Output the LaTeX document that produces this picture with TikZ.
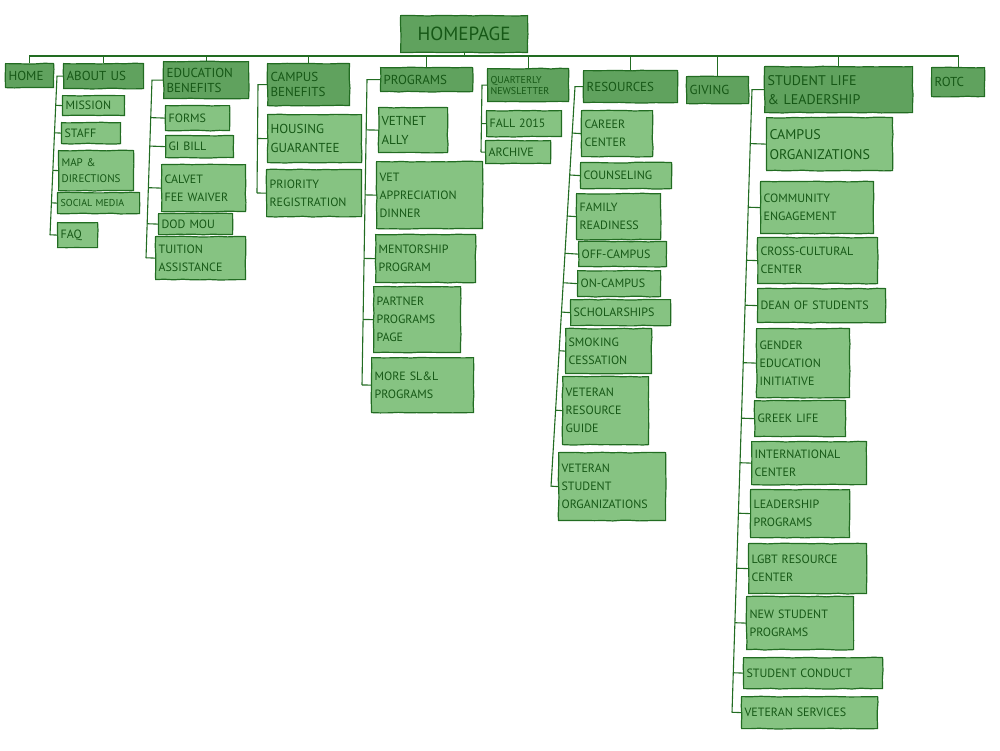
\documentclass[tikz,border=0pt]{standalone}
\usepackage{fontspec}
\setmainfont{PT Sans}
\usetikzlibrary{calc,decorations.pathmorphing}
\definecolor{inkgreen}{RGB}{34,108,34}
\definecolor{textgreen}{RGB}{22,88,22}
\definecolor{topfill}{RGB}{96,162,94}
\definecolor{kidfill}{RGB}{134,195,130}
\tikzset{
  box/.style={draw=inkgreen, line width=1.2pt, text=textgreen, inner sep=3pt,
    anchor=north west, align=left,
    decorate, decoration={random steps, segment length=9pt, amplitude=0.4pt}},
  top/.style={box, fill=topfill, font=\fontsize{13}{15}\selectfont},
  kid/.style={box, fill=kidfill, font=\fontsize{12}{18}\selectfont},
  link/.style={draw=inkgreen, line width=1.1pt}
}
\begin{document}
\begin{tikzpicture}[x=1pt,y=-1pt]
\useasboundingbox (0,0) rectangle (1000,750);
% homepage and first level
\node[top, text width=121pt, minimum height=37pt, font=\fontsize{19}{22}\selectfont, align=center] (homepage) at (400,15) {HOMEPAGE};
\node[top, text width=42pt, minimum height=24pt] (home) at (5,63) {HOME};
\node[top, text width=74pt, minimum height=25pt] (about) at (63,63) {ABOUT US};
\node[top, text width=79pt, minimum height=37pt] (edu) at (163,61) {EDUCATION\\BENEFITS};
\node[top, text width=76pt, minimum height=42pt] (campus) at (267,63) {CAMPUS\\BENEFITS};
\node[top, text width=86pt, minimum height=24pt] (programs) at (380,67) {PROGRAMS};
\node[top, text width=75pt, minimum height=33pt, font=\fontsize{10}{11}\selectfont] (news) at (487,68) {QUARTERLY\\NEWSLETTER};
\node[top, text width=88pt, minimum height=32pt] (resources) at (583,70) {RESOURCES};
\node[top, text width=56pt, minimum height=27pt] (giving) at (686,76) {GIVING};
\node[top, text width=142pt, minimum height=46pt, font=\fontsize{14}{19}\selectfont] (studentlife) at (764,66) {STUDENT LIFE\\\& LEADERSHIP};
\node[top, text width=47pt, minimum height=29pt] (rotc) at (931,67) {ROTC};

\coordinate (topbar) at (0,56);
\draw[link] (homepage.south) -- (homepage.south |- topbar);
\draw[link] (home.north) |- (rotc.north |- topbar) -- (rotc.north);
\foreach \n in {about,edu,campus,programs,news,resources,giving,studentlife}
  \draw[link] (\n.north) -- (\n.north |- topbar);

% about us
\node[kid, text width=56pt, minimum height=20pt] (mission) at (62,95) {MISSION};
\node[kid, text width=53pt, minimum height=21pt] (staff) at (61,122) {STAFF};
\node[kid, text width=69pt, minimum height=40pt, font=\fontsize{11}{16}\selectfont] (mapdir) at (58,150) {MAP \&\\DIRECTIONS};
\node[kid, text width=76pt, minimum height=21pt, font=\fontsize{10}{12}\selectfont] (social) at (57,192) {SOCIAL MEDIA};
\node[kid, text width=34pt, minimum height=25pt] (faq) at (57,222) {FAQ};
\coordinate (abtop) at (about.west -| 57,0);
\coordinate (abbot) at (faq.west -| 50,0);
\draw[link] (about.west) -- (abtop) -- (abbot);
\foreach \k in {mission,staff,mapdir,social,faq}
  \draw[link] ($(abtop)!(\k.west)!(abbot)$) -- (\k.west);

% education benefits
\node[kid, text width=58pt, minimum height=25pt] (forms) at (165,105) {FORMS};
\node[kid, text width=62pt, minimum height=22pt] (gibill) at (165,135) {GI BILL};
\node[kid, text width=78pt, minimum height=47pt] (calvet) at (161,164) {CALVET\\FEE WAIVER};
\node[kid, text width=68pt, minimum height=21pt] (dodmou) at (158,213) {DOD MOU};
\node[kid, text width=84pt, minimum height=43pt] (tuition) at (155,236) {TUITION\\ASSISTANCE};
\coordinate (edtop) at (edu.west -| 152,0);
\coordinate (edbot) at (tuition.west -| 146,0);
\draw[link] (edu.west) -- (edtop) -- (edbot);
\foreach \k in {forms,gibill,calvet,dodmou,tuition}
  \draw[link] ($(edtop)!(\k.west)!(edbot)$) -- (\k.west);

% campus benefits
\node[kid, text width=88pt, minimum height=48pt, font=\fontsize{13}{19}\selectfont] (housing) at (267,114) {HOUSING\\GUARANTEE};
\node[kid, text width=89pt, minimum height=47pt] (priority) at (266,169) {PRIORITY\\REGISTRATION};
\coordinate (cbtop) at (campus.west -| 258,0);
\coordinate (cbbot) at (priority.west -| 257,0);
\draw[link] (campus.west) -- (cbtop) -- (cbbot);
\foreach \k in {housing,priority}
  \draw[link] ($(cbtop)!(\k.west)!(cbbot)$) -- (\k.west);

% programs
\node[kid, text width=63pt, minimum height=45pt, font=\fontsize{13}{19}\selectfont] (vetnet) at (378,107) {VETNET\\ALLY};
\node[kid, text width=100pt, minimum height=67pt] (dinner) at (376,161) {VET\\APPRECIATION\\DINNER};
\node[kid, text width=94pt, minimum height=48pt] (mentor) at (375,234) {MENTORSHIP\\PROGRAM};
\node[kid, text width=81pt, minimum height=66pt] (partner) at (373,286) {PARTNER\\PROGRAMS\\PAGE};
\node[kid, text width=96pt, minimum height=55pt] (moresll) at (371,357) {MORE SL\&L\\PROGRAMS};
\coordinate (prtop) at (programs.west -| 367,0);
\coordinate (prbot) at (moresll.west -| 362,0);
\draw[link] (programs.west) -- (prtop) -- (prbot);
\foreach \k in {vetnet,dinner,mentor,partner,moresll}
  \draw[link] ($(prtop)!(\k.west)!(prbot)$) -- (\k.west);

% quarterly newsletter
\node[kid, text width=69pt, minimum height=26pt] (fall) at (486,110) {FALL 2015};
\node[kid, text width=59pt, minimum height=23pt] (archive) at (485,140) {ARCHIVE};
\coordinate (nltop) at (news.west -| 482,0);
\coordinate (nlbot) at (archive.west -| 481,0);
\draw[link] (news.west) -- (nltop) -- (nlbot);
\foreach \k in {fall,archive}
  \draw[link] ($(nltop)!(\k.west)!(nlbot)$) -- (\k.west);

% resources
\node[kid, text width=65pt, minimum height=46pt] (career) at (581,110) {CAREER\\CENTER};
\node[kid, text width=85pt, minimum height=26pt] (counsel) at (580,162) {COUNSELING};
\node[kid, text width=78pt, minimum height=46pt] (family) at (576,193) {FAMILY\\READINESS};
\node[kid, text width=82pt, minimum height=25pt] (offcampus) at (578,241) {OFF-CAMPUS};
\node[kid, text width=77pt, minimum height=26pt] (oncampus) at (577,270) {ON-CAMPUS};
\node[kid, text width=94pt, minimum height=26pt] (scholar) at (570,299) {SCHOLARSHIPS};
\node[kid, text width=80pt, minimum height=45pt] (smoking) at (565,328) {SMOKING\\CESSATION};
\node[kid, text width=80pt, minimum height=68pt] (vetguide) at (562,376) {VETERAN\\RESOURCE\\GUIDE};
\node[kid, text width=101pt, minimum height=68pt] (vetorgs) at (558,452) {VETERAN\\STUDENT\\ORGANIZATIONS};
\coordinate (rstop) at (resources.west -| 575,0);
\coordinate (rsbot) at (vetorgs.west -| 551,0);
\draw[link] (resources.west) -- (rstop) -- (rsbot);
\foreach \k in {career,counsel,family,offcampus,oncampus,scholar,smoking,vetguide,vetorgs}
  \draw[link] ($(rstop)!(\k.west)!(rsbot)$) -- (\k.west);

% student life & leadership
\node[kid, text width=120pt, minimum height=53pt, font=\fontsize{14}{20}\selectfont] (campusorg) at (766,117) {CAMPUS\\ORGANIZATIONS};
\node[kid, text width=107pt, minimum height=52pt] (community) at (760,181) {COMMUNITY\\ENGAGEMENT};
\node[kid, text width=114pt, minimum height=46pt] (crosscult) at (757,237) {CROSS-CULTURAL\\CENTER};
\node[kid, text width=122pt, minimum height=34pt] (dean) at (757,288) {DEAN OF STUDENTS};
\node[kid, text width=87pt, minimum height=69pt] (gender) at (756,328) {GENDER\\EDUCATION\\INITIATIVE};
\node[kid, text width=85pt, minimum height=36pt] (greek) at (754,400) {GREEK LIFE};
\node[kid, text width=109pt, minimum height=43pt] (intl) at (751,441) {INTERNATIONAL\\CENTER};
\node[kid, text width=93pt, minimum height=48pt] (leader) at (750,489) {LEADERSHIP\\PROGRAMS};
\node[kid, text width=112pt, minimum height=50pt] (lgbt) at (748,543) {LGBT RESOURCE\\CENTER};
\node[kid, text width=101pt, minimum height=53pt] (newstud) at (746,596) {NEW STUDENT\\PROGRAMS};
\node[kid, text width=133pt, minimum height=31pt] (conduct) at (743,657) {STUDENT CONDUCT};
\node[kid, text width=130pt, minimum height=32pt] (vetserv) at (741,696) {VETERAN SERVICES};
\coordinate (sltop) at (studentlife.west -| 752,0);
\coordinate (slbot) at (vetserv.west -| 732,0);
\draw[link] (studentlife.west) -- (sltop) -- (slbot);
\foreach \k in {campusorg,community,crosscult,dean,gender,greek,intl,leader,lgbt,newstud,conduct,vetserv}
  \draw[link] ($(sltop)!(\k.west)!(slbot)$) -- (\k.west);
\end{tikzpicture}
\end{document}
